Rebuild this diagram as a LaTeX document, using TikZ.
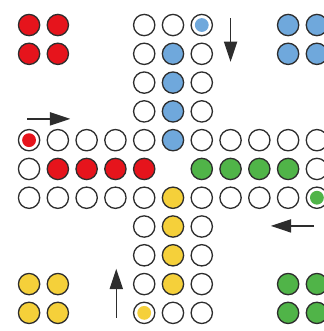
\documentclass[tikz,border=0pt]{standalone}
\usepackage{xcolor}
\usepackage{tikz}
\usetikzlibrary{arrows.meta}
\definecolor{rd}{RGB}{230,20,28}
\definecolor{bl}{RGB}{111,168,220}
\definecolor{gn}{RGB}{80,180,72}
\definecolor{yl}{RGB}{245,208,58}
\definecolor{rim}{RGB}{45,45,45}

\begin{document}
\begin{tikzpicture}[x=1cm,y=-1cm,>={Triangle[length=20pt,width=13pt]},
  hole/.style={draw=rim,line width=1.3pt,fill=white},
  pawn/.style={draw=rim,line width=1.3pt}]
  \clip (-1.01,-0.87) rectangle (10.24,10.63);
  \useasboundingbox (-1.01,-0.87) rectangle (10.24,10.63);
  % track
  \foreach \r in {0,...,4} {\draw[hole] (4,\r) circle (0.37); \draw[hole] (6,\r) circle (0.37);}
  \foreach \r in {6,...,10} {\draw[hole] (4,\r) circle (0.37); \draw[hole] (6,\r) circle (0.37);}
  \foreach \c in {0,...,3,7,8,9,10} {\draw[hole] (\c,4) circle (0.37); \draw[hole] (\c,6) circle (0.37);}
  \draw[hole] (5,0) circle (0.37); \draw[hole] (5,10) circle (0.37);
  \draw[hole] (0,5) circle (0.37); \draw[hole] (10,5) circle (0.37);
  % home rows
  \foreach \k in {1,...,4} {
    \draw[pawn,fill=bl] (5,\k) circle (0.37);
    \draw[pawn,fill=rd] (\k,5) circle (0.37);
    \draw[pawn,fill=gn] ({10-\k},5) circle (0.37);
    \draw[pawn,fill=yl] (5,{10-\k}) circle (0.37);}
  % start spots
  \fill[rd] (0,4) circle (0.24);
  \fill[bl] (6,0) circle (0.24);
  \fill[gn] (10,6) circle (0.24);
  \fill[yl] (4,10) circle (0.24);
  % yards
  \foreach \i in {0,1} \foreach \j in {0,1} {
    \draw[pawn,fill=rd] (\i,\j) circle (0.37);
    \draw[pawn,fill=bl] (9+\i,\j) circle (0.37);
    \draw[pawn,fill=yl] (\i,9+\j) circle (0.37);
    \draw[pawn,fill=gn] (9+\i,9+\j) circle (0.37);}
  % direction arrows
  \coordinate (rdA) at (-0.07,3.26); \coordinate (rdB) at (1.43,3.26);
  \coordinate (blA) at (7,-0.24);    \coordinate (blB) at (7,1.28);
  \coordinate (gnA) at (9.9,6.98);   \coordinate (gnB) at (8.4,6.98);
  \coordinate (ylA) at (3.03,10.17); \coordinate (ylB) at (3.03,8.47);
  \foreach \p in {rd,bl,gn,yl} \draw[->,line width=1.3pt,rim] (\p A) -- (\p B);
\end{tikzpicture}
\end{document}
